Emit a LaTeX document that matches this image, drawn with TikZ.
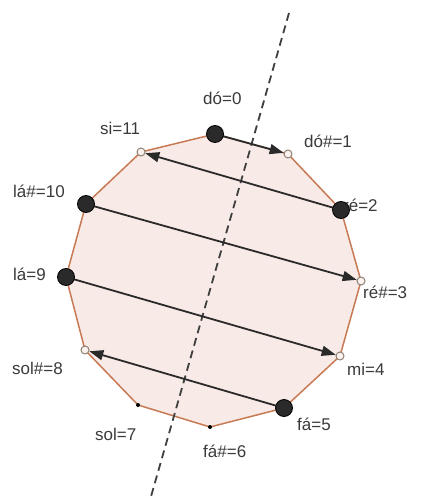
\documentclass[tikz,border=0pt]{standalone}
\usepackage{fontspec}
\setmainfont{Liberation Sans}
\usetikzlibrary{arrows.meta}
\definecolor{edgec}{HTML}{C87A55}
\definecolor{fillc}{HTML}{F8EAE6}
\definecolor{ink}{HTML}{2A2A2A}
\definecolor{txt}{HTML}{3A3A3A}
\tikzset{
  bigdot/.style={circle,fill=ink,draw=black,line width=0.8pt,inner sep=0pt,minimum size=17pt},
  opendot/.style={circle,fill=fillc!60!white,draw=gray!80!brown,line width=1pt,inner sep=0pt,minimum size=8pt},
  tinydot/.style={circle,fill=black,inner sep=0pt,minimum size=4pt},
  lbl/.style={anchor=base west,inner sep=0pt,text=txt,font=\fontsize{17}{17}\selectfont},
  arr/.style={draw=ink,line width=1.8pt,-{Triangle[length=14pt,width=10pt]}},
  axis/.style={draw=ink!90,line width=1.8pt,dash pattern=on 8pt off 5pt}
}
\begin{document}
\begin{tikzpicture}[x=1pt,y=-1pt]
\useasboundingbox (0,0) rectangle (423,502);
\coordinate (v0) at (215,134);
\coordinate (v1) at (288,154);
\coordinate (v2) at (341,210);
\coordinate (v3) at (361,281);
\coordinate (v4) at (340,356);
\coordinate (v5) at (284,408);
\coordinate (v6) at (210,427);
\coordinate (v7) at (138,405);
\coordinate (v8) at (85,350);
\coordinate (v9) at (66,277);
\coordinate (v10) at (86,204);
\coordinate (v11) at (141,152);
\filldraw[fill=fillc,draw=edgec,line width=1.5pt,line join=round]
  (v0)--(v1)--(v2)--(v3)--(v4)--(v5)--(v6)--(v7)--(v8)--(v9)--(v10)--(v11)--cycle;
\coordinate (top) at (289,13);
\coordinate (bot) at (150,500);
\draw[axis] (top) -- (bot);
% labels
\node[lbl] (l0) at (203,105) {dó=0};
\node[lbl] (l1) at (304,148) {dó\#=1};
\node[lbl] (l2) at (343,212) {ré=2};
\node[lbl] (l3) at (363,298) {ré\#=3};
\node[lbl] (l4) at (347,375) {mi=4};
\node[lbl] (l5) at (297,430) {fá=5};
\node[lbl] (l6) at (203,457) {fá\#=6};
\node[lbl] (l7) at (95,440) {sol=7};
\node[lbl] (l8) at (12,374) {sol\#=8};
\node[lbl] (l9) at (13,280) {lá=9};
\node[lbl] (l10) at (13,198) {lá\#=10};
\node[lbl] (l11) at (100,135) {si=11};
% points
\node[opendot] (d1) at (v1) {};
\node[opendot] (d11) at (v11) {};
\node[opendot] (d3) at (v3) {};
\node[opendot] (d4) at (v4) {};
\node[opendot] (d8) at (v8) {};
\node[tinydot] (d6) at (v6) {};
\node[tinydot] (d7) at (v7) {};
\draw[arr] (v0) -- (d1);
\draw[arr] (v2) -- (d11);
\draw[arr] (v10) -- (d3);
\draw[arr] (v9) -- (d4);
\draw[arr] (v5) -- (d8);
\node[bigdot] (d0) at (v0) {};
\node[bigdot] (d2) at (v2) {};
\node[bigdot] (d5) at (v5) {};
\node[bigdot] (d9) at (v9) {};
\node[bigdot] (d10) at (v10) {};
\end{tikzpicture}
\end{document}
